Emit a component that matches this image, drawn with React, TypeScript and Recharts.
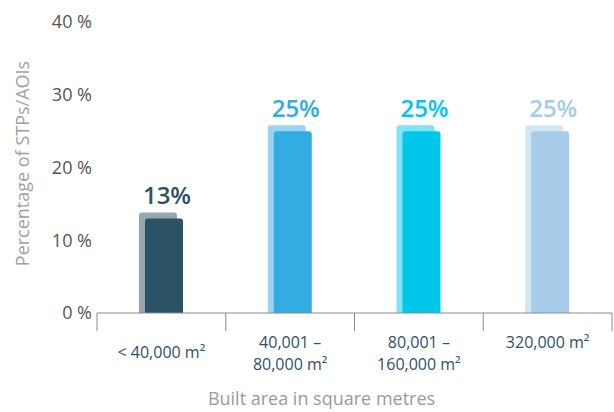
import React from 'react';
import { BarChart, Bar, XAxis, YAxis, Label, LabelList } from 'recharts';

// built-area bands (multi-line tick labels split on \n)
const categories = ['< 40,000 m²', '40,001 –\n80,000 m²', '80,001 –\n160,000 m²', '320,000 m²\n'];
const shares = [13, 25, 25, 25];
const yTicks = [0, 10, 20, 30, 40];
const barColors = ['#2c5266', '#33abe3', '#00c6ec', '#a6ccea'];

const data = categories.map((name, i) => ({ name, share: shares[i] }));

const WIDTH = 614;
const HEIGHT = 412;
const Y_AXIS_W = 97;
const RIGHT = 2;
const BAND = (WIDTH - Y_AXIS_W - RIGHT) / categories.length;
const SHIFT = 6; // offset of the back "shadow" bar
const FONT = '"Open Sans", "DejaVu Sans", sans-serif';

function topRounded(x: number, y: number, w: number, h: number, r: number) {
  return `M${x},${y + h} L${x},${y + r} Q${x},${y} ${x + r},${y} L${x + w - r},${y} Q${x + w},${y} ${x + w},${y + r} L${x + w},${y + h} Z`;
}

function ShadowBar(props: any) {
  const { x, y, width, height, index } = props;
  const color = barColors[index % barColors.length];
  const w = width - SHIFT;
  return (
    <g>
      <path d={topRounded(x, y - SHIFT, w, height + SHIFT, 3)} fill={color} fillOpacity={0.5} />
      <path d={topRounded(x + SHIFT, y, w, height, 3)} fill={color} />
    </g>
  );
}

function ValueLabel(props: any) {
  const { x, y, width, value, index } = props;
  return (
    <text
      x={x + width / 2 + 6}
      y={y - 14}
      textAnchor="middle"
      fill={barColors[index % barColors.length]}
      fontSize={24}
      fontWeight={600}
    >
      {`${value}%`}
    </text>
  );
}

function CategoryTick(props: any) {
  const { x, y, payload, index } = props;
  const lines = String(payload.value).split('\n');
  const half = BAND / 2;
  const last = index === categories.length - 1;
  const firstBaseline = lines.length === 1 ? y + 45 : y + 35;
  return (
    <g>
      <line x1={x - half} x2={x - half} y1={y} y2={y + 18} stroke="#8a8a8a" />
      {last && <line x1={x + half} x2={x + half} y1={y} y2={y + 18} stroke="#8a8a8a" />}
      <text textAnchor="middle" fill="#2c5266" fontSize={16}>
        {lines.map((l, i) => (
          <tspan key={i} x={x} y={firstBaseline + i * 22}>
            {l}
          </tspan>
        ))}
      </text>
    </g>
  );
}

export default function App() {
  return (
    <div style={{ position: 'absolute', left: 0, top: 0, fontFamily: FONT }}>
      <BarChart
        width={WIDTH}
        height={HEIGHT}
        data={data}
        margin={{ top: 22, right: RIGHT, left: 0, bottom: 0 }}
        barSize={44}
      >
        <XAxis
          dataKey="name"
          height={99}
          axisLine={{ stroke: '#8a8a8a' }}
          tickLine={false}
          tickSize={0}
          tickMargin={0}
          interval={0}
          tick={<CategoryTick />}
        >
          <Label
            content={({ viewBox }: any) => (
              <text
                x={viewBox.x + viewBox.width / 2 - 33}
                y={viewBox.y + viewBox.height - 7}
                textAnchor="middle"
                fill="#9a9a9a"
                fontSize={18}
              >
                Built area in square metres
              </text>
            )}
          />
        </XAxis>
        <YAxis
          width={Y_AXIS_W}
          domain={[0, 40]}
          ticks={yTicks}
          tickFormatter={(v) => `${v} %`}
          axisLine={false}
          tickLine={false}
          tickSize={0}
          tickMargin={5}
          tick={{ fill: '#555', fontSize: 18 }}
        >
          <Label
            content={({ viewBox }: any) => {
              const cx = viewBox.x + 22;
              const cy = viewBox.y + viewBox.height / 2 - 4;
              return (
                <text
                  x={cx}
                  y={cy}
                  transform={`rotate(-90, ${cx}, ${cy})`}
                  textAnchor="middle"
                  dominantBaseline="central"
                  fill="#a0a0a0"
                  fontSize={18}
                >
                  Percentage of STPs/AOIs
                </text>
              );
            }}
          />
        </YAxis>
        <Bar dataKey="share" shape={<ShadowBar />} isAnimationActive={false}>
          <LabelList dataKey="share" content={<ValueLabel />} />
        </Bar>
      </BarChart>
    </div>
  );
}
